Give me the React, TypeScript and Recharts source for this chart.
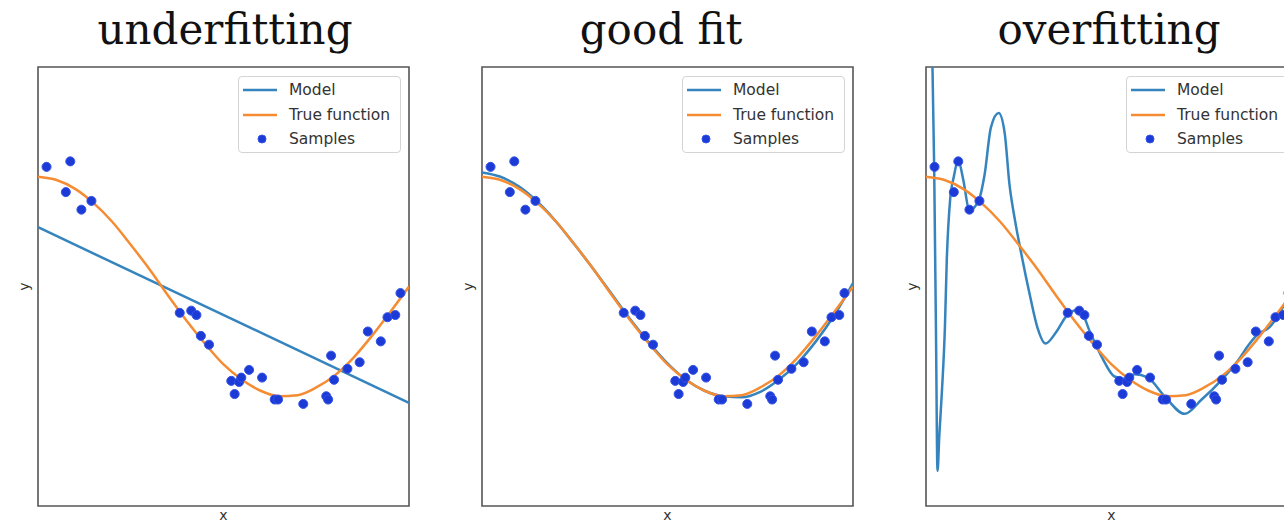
import React from 'react';
import { ComposedChart, Line, Scatter, XAxis, YAxis, ReferenceArea } from 'recharts';

// noisy samples (same set in all three panels)
const sampleX = [0.023, 0.087, 0.075, 0.117, 0.144, 0.382, 0.413, 0.427, 0.439, 0.461, 0.521, 0.542, 0.548, 0.53, 0.569, 0.604, 0.638, 0.647, 0.715, 0.777, 0.782, 0.79, 0.798, 0.834, 0.867, 0.889, 0.924, 0.942, 0.963, 0.977];
const sampleY = [1.09, 1.14, 0.86, 0.7, 0.78, -0.24, -0.22, -0.26, -0.45, -0.53, -0.86, -0.87, -0.83, -0.98, -0.76, -0.83, -1.03, -1.03, -1.07, -1.0, -1.03, -0.63, -0.85, -0.75, -0.69, -0.41, -0.5, -0.28, -0.26, -0.06];

// true function
const trueX = [0, 0.05, 0.1, 0.15, 0.2, 0.25, 0.3, 0.35, 0.4, 0.45, 0.5, 0.55, 0.6, 0.65, 0.7, 0.75, 0.8, 0.85, 0.9, 0.95, 1];
const trueY = [1.0, 0.97, 0.89, 0.76, 0.59, 0.38, 0.16, -0.08, -0.31, -0.52, -0.71, -0.85, -0.95, -1.0, -0.99, -0.92, -0.81, -0.65, -0.45, -0.23, 0.0];

// models
const underX = [0, 1];
const underY = [0.54, -1.06];

const goodX = [0, 0.05, 0.1, 0.15, 0.2, 0.25, 0.3, 0.35, 0.4, 0.45, 0.5, 0.55, 0.6, 0.65, 0.7, 0.75, 0.8, 0.85, 0.9, 0.95, 1];
const goodY = [1.04, 1.0, 0.91, 0.77, 0.59, 0.38, 0.16, -0.07, -0.3, -0.51, -0.7, -0.85, -0.95, -1.0, -1.01, -0.96, -0.85, -0.7, -0.5, -0.26, 0.03];

const overX = [0, 0.012, 0.022, 0.027, 0.031, 0.036, 0.043, 0.051, 0.056, 0.065, 0.075, 0.087, 0.1, 0.117, 0.13, 0.144, 0.158, 0.175, 0.196, 0.212, 0.225, 0.24, 0.255, 0.28, 0.3, 0.322, 0.35, 0.381, 0.413, 0.444, 0.475, 0.508, 0.535, 0.562, 0.598, 0.643, 0.697, 0.743, 0.797, 0.842, 0.87, 0.896, 0.923, 0.95, 0.975, 1];
const overY = [9, 3.2, 1.09, -0.45, -1.68, -1.35, -0.95, -0.37, 0.24, 0.79, 1.0, 1.15, 0.98, 0.7, 0.72, 0.8, 1.02, 1.45, 1.58, 1.4, 0.93, 0.6, 0.33, -0.08, -0.37, -0.52, -0.42, -0.26, -0.21, -0.43, -0.65, -0.82, -0.84, -0.8, -0.83, -1.0, -1.16, -1.03, -0.85, -0.67, -0.53, -0.43, -0.38, -0.26, -0.1, 0.1];

const titles = ['underfitting', 'good fit', 'overfitting'];
const legendNames = ['Model', 'True function', 'Samples'];

const MODEL_COLOR = '#3584bd';
const TRUE_COLOR = '#f58c33';
const DOT_COLOR = '#1c3bd6';

const toPoints = (xs: number[], ys: number[]) => xs.map((x, i) => ({ x, y: ys[i] }));

const samples = toPoints(sampleX, sampleY);
const truePts = toPoints(trueX, trueY);

const panels = [
  { title: titles[0], model: toPoints(underX, underY), left: 38, titleCenter: 225, linear: true },
  { title: titles[1], model: toPoints(goodX, goodY), left: 482, titleCenter: 661, linear: false },
  { title: titles[2], model: toPoints(overX, overY), left: 926, titleCenter: 1109, linear: false },
];

const LegendBox = () => (
  <div
    style={{
      position: 'absolute',
      right: 10,
      top: 11,
      width: 163,
      height: 77,
      boxSizing: 'border-box',
      border: '1px solid #d4d4d4',
      borderRadius: 4,
      background: 'rgba(255,255,255,0.85)',
      fontFamily: 'DejaVu Sans',
      fontSize: 15.5,
      color: '#333',
    }}
  >
    {legendNames.map((name, i) => (
      <div key={name} style={{ position: 'absolute', left: 0, top: 13 + i * 24.5 - 10, height: 20, width: 160 }}>
        <svg width={34} height={20} style={{ position: 'absolute', left: 4, top: 0 }}>
          {name === 'Samples' ? (
            <circle cx={19} cy={10} r={4} fill={DOT_COLOR} stroke="#3352e6" strokeWidth={1} />
          ) : (
            <line x1={0} y1={10} x2={34} y2={10} stroke={name === 'Model' ? MODEL_COLOR : TRUE_COLOR} strokeWidth={2.5} />
          )}
        </svg>
        <span style={{ position: 'absolute', left: 50, top: 0, lineHeight: '20px', whiteSpace: 'nowrap' }}>{name}</span>
      </div>
    ))}
  </div>
);

function FitPanel({ model, left, linear }: { model: { x: number; y: number }[]; left: number; linear: boolean }) {
  return (
    <div style={{ position: 'absolute', left: left - 30, top: 65, width: 403, height: 461 }}>
      <ComposedChart width={403} height={461} margin={{ top: 2, right: 2, bottom: 0, left: 0 }}>
        <XAxis
          type="number"
          dataKey="x"
          domain={[0, 1]}
          allowDataOverflow
          tick={false}
          tickLine={false}
          axisLine={false}
          height={20}
          label={{ value: 'x', position: 'center', fill: '#333', fontSize: 14, fontFamily: 'DejaVu Sans', dy: -1 }}
        />
        <YAxis
          type="number"
          dataKey="y"
          domain={[-2, 2]}
          allowDataOverflow
          tick={false}
          tickLine={false}
          axisLine={false}
          width={30}
          label={{ value: 'y', angle: -90, position: 'center', fill: '#333', fontSize: 14, fontFamily: 'DejaVu Sans', dx: 1 }}
        />
        <Line
          data={model}
          dataKey="y"
          name="Model"
          type={linear ? 'linear' : 'monotone'}
          stroke={MODEL_COLOR}
          strokeWidth={2.5}
          dot={false}
          activeDot={false}
          isAnimationActive={false}
        />
        <Line
          data={truePts}
          dataKey="y"
          name="True function"
          type="monotone"
          stroke={TRUE_COLOR}
          strokeWidth={2.5}
          dot={false}
          activeDot={false}
          isAnimationActive={false}
        />
        <Scatter data={samples} name="Samples" fill={DOT_COLOR} stroke="#3352e6" strokeWidth={1} isAnimationActive={false} />
        <ReferenceArea x1={0} x2={1} y1={-2} y2={2} fill="none" fillOpacity={0} stroke="#555" strokeWidth={1.6} />
      </ComposedChart>
      <LegendBox />
    </div>
  );
}

export default function App() {
  return (
    <div style={{ position: 'fixed', left: 0, top: 0, width: 1284, height: 523, overflow: 'hidden', background: '#fff' }}>
      {panels.map((p) => (
        <div
          key={p.title}
          style={{
            position: 'absolute',
            top: 9,
            left: p.titleCenter - 200,
            width: 400,
            textAlign: 'center',
            fontFamily: 'DejaVu Serif',
            fontSize: 42,
            lineHeight: '42px',
            color: '#111',
          }}
        >
          {p.title}
        </div>
      ))}
      {panels.map((p) => (
        <FitPanel key={p.title} model={p.model} left={p.left} linear={p.linear} />
      ))}
    </div>
  );
}
